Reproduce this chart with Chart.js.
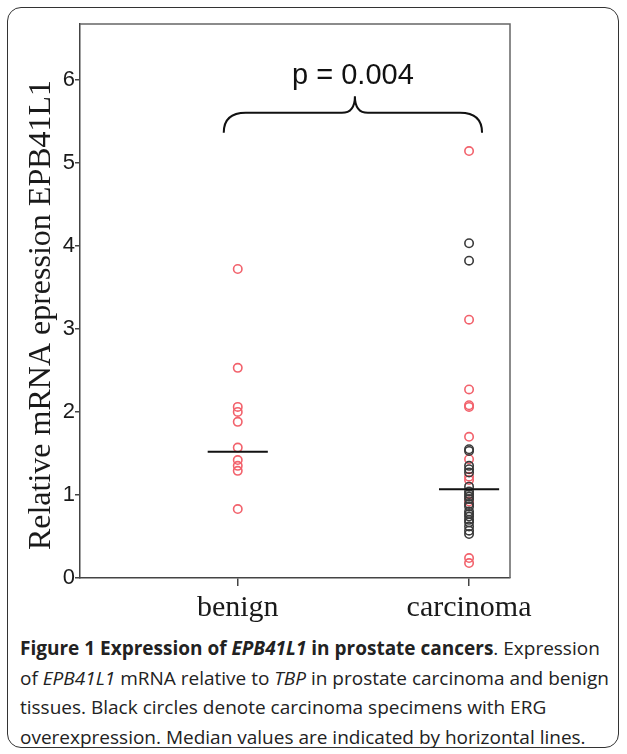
<!DOCTYPE html>
<html lang="en">
  <head>
    <meta charset="UTF-8" />
    <title>EPB41L1 expression</title>
    <script src="https://cdn.jsdelivr.net/npm/chart.js"></script>
    <style>
      html, body { margin: 0; padding: 0; background: #fff; }
      #page { position: relative; width: 627px; height: 754px; overflow: hidden; }
      #frame {
        position: absolute; left: 7px; top: 7px; width: 612px; height: 741px;
        border: 1.5px solid #333; border-radius: 14px; box-sizing: border-box;
      }
      #chartBox { position: absolute; left: 0; top: 0; width: 627px; height: 630px; }
      #caption {
        position: absolute; left: 20px; top: 634px; white-space: nowrap;
        font-family: "Open Sans", sans-serif; font-size: 19px; line-height: 29.5px;
        color: #222;
      }
    </style>
  </head>
  <body>
    <div id="page">
      <div id="frame"></div>
      <div id="chartBox"><canvas id="scatter" width="627" height="630"></canvas></div>
      <div id="caption">
        <b>Figure 1 Expression of <i>EPB41L1</i> in prostate cancers</b>. Expression<br />
        of <i>EPB41L1</i> mRNA relative to <i>TBP</i> in prostate carcinoma and benign<br />
        tissues. Black circles denote carcinoma specimens with ERG<br />
        overexpression. Median values are indicated by horizontal lines.
      </div>
    </div>
    <script>
      // values
      const categories = ["benign", "carcinoma"];
      const benignValues = [3.72, 2.53, 2.06, 2.0, 1.88, 1.57, 1.42, 1.35, 1.29, 0.83];
      const carcinomaErgNeg = [5.14, 3.11, 2.27, 2.08, 2.06, 1.7, 1.43, 1.22, 1.18, 0.92, 0.24, 0.18];
      const carcinomaErgPos = [4.03, 3.82, 1.55, 1.53, 1.35, 1.31, 1.27, 1.1, 1.04, 1.01, 0.98,
        0.95, 0.89, 0.86, 0.8, 0.77, 0.74, 0.7, 0.67, 0.62, 0.57, 0.53];
      const medians = [1.52, 1.07];
      const yTicks = [0, 1, 2, 3, 4, 5, 6];
      const yTitle = "Relative mRNA epression EPB41L1";
      const pLabel = "p = 0.004";

      const red = "rgb(242, 98, 108)";
      const dark = "#3a3a3a";
      const medianHalf = 0.13; // half width of median bar, in category units

      const toPoints = (vals, cat) => vals.map((v) => ({ x: cat + 1, y: v }));

      const redPoints = toPoints(benignValues, 0).concat(toPoints(carcinomaErgNeg, 1));
      const blackPoints = toPoints(carcinomaErgPos, 1);

      const medianSets = medians.map((m, i) => ({
        type: "line",
        data: [{ x: i + 1 - medianHalf, y: m }, { x: i + 1 + medianHalf, y: m }],
        borderColor: "#111",
        borderWidth: 2,
        pointRadius: 0,
        order: 0,
      }));

      // box round the plot, y title, brace and p value
      const extras = {
        id: "extras",
        afterDatasetsDraw(chart) {
          const { ctx, chartArea: a, scales } = chart;
          const xs = scales.x, ys = scales.y;
          ctx.save();
          ctx.strokeStyle = "#666";
          ctx.lineWidth = 1.5;
          ctx.beginPath();
          ctx.moveTo(a.left, a.top);
          ctx.lineTo(a.right, a.top);
          ctx.lineTo(a.right, a.bottom);
          ctx.stroke();

          // y title sits a little below the middle in the original
          ctx.save();
          ctx.translate(42, (a.top + a.bottom) / 2 + 14);
          ctx.rotate(-Math.PI / 2);
          ctx.fillStyle = "#1a1a1a";
          ctx.font = "32px 'Liberation Serif', 'Times New Roman', serif";
          ctx.textAlign = "center";
          ctx.textBaseline = "middle";
          ctx.fillText(yTitle, 0, 0);
          ctx.restore();

          const L = xs.getPixelForValue(1) - 14;
          const R = xs.getPixelForValue(2) + 13;
          const C = (L + R) / 2 + 2;
          const yb = ys.getPixelForValue(5.36);
          const ym = ys.getPixelForValue(5.6);
          const yt = ys.getPixelForValue(5.8);
          ctx.strokeStyle = "#111";
          ctx.lineWidth = 2;
          ctx.beginPath();
          ctx.moveTo(L, yb);
          ctx.quadraticCurveTo(L, ym, L + 22, ym);
          ctx.lineTo(C - 13, ym);
          ctx.quadraticCurveTo(C, ym, C, yt);
          ctx.quadraticCurveTo(C, ym, C + 13, ym);
          ctx.lineTo(R - 22, ym);
          ctx.quadraticCurveTo(R, ym, R, yb);
          ctx.stroke();

          ctx.fillStyle = "#111";
          ctx.font = "29px 'Liberation Sans', Arial, sans-serif";
          ctx.textAlign = "center";
          ctx.textBaseline = "middle";
          ctx.fillText(pLabel, C - 2, ys.getPixelForValue(6.04));
          ctx.restore();
        },
      };

      const ctx = document.getElementById("scatter").getContext("2d");
      new Chart(ctx, {
        type: "scatter",
        data: {
          datasets: [
            {
              data: blackPoints,
              borderColor: dark,
              backgroundColor: "rgba(0,0,0,0)",
              borderWidth: 1.6,
              pointRadius: 4.2,
              order: 1,
            },
            {
              data: redPoints,
              borderColor: red,
              backgroundColor: "rgba(0,0,0,0)",
              borderWidth: 1.6,
              pointRadius: 4.2,
              order: 2,
            },
            ...medianSets,
          ],
        },
        options: {
          responsive: false,
          animation: false,
          layout: { padding: { left: 8, top: 24, right: 117, bottom: 0 } },
          plugins: { legend: { display: false }, tooltip: { enabled: false } },
          scales: {
            x: {
              type: "linear",
              min: 0.318,
              max: 2.177,
              afterBuildTicks: (s) => { s.ticks = categories.map((c, i) => ({ value: i + 1 })); },
              afterFit: (s) => { s.height = 52; },
              ticks: {
                callback: (v) => categories[v - 1],
                font: { family: "'Liberation Serif', 'Times New Roman', serif", size: 30 },
                color: "#1a1a1a",
                padding: 4,
                maxRotation: 0,
              },
              grid: { drawOnChartArea: false, tickLength: 8, color: "#444", lineWidth: 1.5 },
              border: { color: "#444", width: 1.5 },
            },
            y: {
              min: 0,
              max: 6.67,
              afterBuildTicks: (s) => { s.ticks = yTicks.map((v) => ({ value: v })); },
              afterFit: (s) => { s.width = 72; },
              ticks: {
                font: { family: "'Liberation Sans', Arial, sans-serif", size: 22 },
                color: "#1a1a1a",
                padding: 0,
              },
              grid: { drawOnChartArea: false, tickLength: 5, color: "#444", lineWidth: 1.5 },
              border: { color: "#444", width: 1.5 },
            },
          },
        },
        plugins: [extras],
      });
    </script>
  </body>
</html>
